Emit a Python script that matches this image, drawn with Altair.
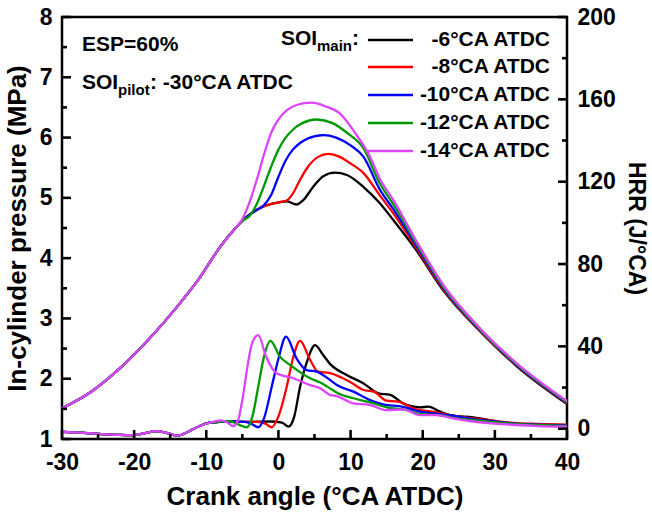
import altair as alt
import pandas as pd

SERIES = ["-6°CA ATDC", "-8°CA ATDC", "-10°CA ATDC", "-12°CA ATDC", "-14°CA ATDC"]
COLORS = ["#000000", "#FF0000", "#0000FF", "#009900", "#DD44FF"]
TICK_COLOR = "black"

# ---- in-cylinder pressure (MPa) ----
P_BASE_CA = [-30, -26, -22, -18, -14, -11, -8, -6]
P_BASE = [1.51, 1.78, 2.17, 2.65, 3.20, 3.66, 4.20, 4.49]

P6_CA = [-5, -4, -2, 0.2, 1.2, 2.5, 3.5, 4.8, 6.2, 7.8, 9.5, 11.8, 14, 16, 19, 23, 28, 33, 40]
P6 = [4.62, 4.72, 4.86, 4.93, 4.94, 4.89, 4.97, 5.18, 5.36, 5.42, 5.38, 5.18, 4.92, 4.62, 4.15, 3.44, 2.78, 2.21, 1.58]

P8_CA = [-5, -4, -2, 0.2, 1.2, 2.0, 3.0, 4.0, 5.5, 6.9, 8.5, 10, 11.8, 14, 16, 19, 23, 28, 33, 40]
P8 = [4.62, 4.72, 4.86, 4.93, 4.96, 5.07, 5.30, 5.50, 5.68, 5.73, 5.68, 5.57, 5.41, 5.05, 4.73, 4.19, 3.46, 2.79, 2.22, 1.59]

P10_CA = [-5, -4, -3, -2, -1, 0, 1, 2, 3, 4, 6.2, 8, 10, 11.8, 14, 16, 19, 23, 28, 33, 40]
P10 = [4.62, 4.72, 4.80, 4.88, 5.05, 5.35, 5.62, 5.80, 5.91, 5.98, 6.04, 6.00, 5.87, 5.68, 5.15, 4.80, 4.23, 3.48, 2.80, 2.23, 1.60]

P12_CA = [-5, -4, -3, -2, -1, 0, 1, 2, 3, 5.3, 7.5, 9.5, 11.8, 14, 16, 19, 23, 28, 33, 40]
P12 = [4.62, 4.70, 4.90, 5.20, 5.52, 5.80, 6.00, 6.13, 6.22, 6.30, 6.24, 6.08, 5.82, 5.25, 4.88, 4.27, 3.50, 2.81, 2.24, 1.61]

P14_CA = [-5, -4, -3, -2, -1, 0, 1.15, 2.5, 4.6, 6.5, 8.5, 10.5, 12.7, 14, 16, 19, 23, 28, 33, 40]
P14 = [4.65, 4.93, 5.30, 5.72, 6.08, 6.30, 6.45, 6.54, 6.58, 6.52, 6.40, 6.10, 5.68, 5.33, 4.95, 4.31, 3.53, 2.83, 2.26, 1.63]

# ---- heat release rate (J/°CA) ----
H_BASE_CA = [-30, -27, -24.5, -22, -20, -18.5, -17, -15.5, -14, -12.5, -11, -9.5, -8]
H_BASE = [-1.5, -2.0, -2.6, -3.0, -3.1, -2.2, -1.2, -2.0, -3.4, -1.5, 1.2, 2.9, 3.4]

H6_CA = [-7, -5, -3, -1, 0.5, 1.4, 2.2, 3.0, 4.0, 5.07, 6.2, 7.15, 9.45, 11.8, 13.85, 15.5, 17.3, 19.6, 20.8, 22.4, 24.2, 27, 29.3, 31.6, 36.2, 40]
H6 = [3.5, 3.3, 3.4, 3.5, 3.0, 1.0, 6.0, 20.4, 33.0, 40.6, 35.8, 31.5, 26.1, 22.0, 17.2, 16.4, 12.3, 10.4, 10.7, 8.3, 6.3, 5.5, 4.2, 2.6, 2.1, 1.8]

H8_CA = [-7, -5, -3, -1.8, -0.93, 0, 1.15, 2.0, 3.0, 4.4, 5.5, 7.15, 9.9, 11.8, 13.2, 15.0, 16.6, 19.1, 21.4, 24.2, 27, 30, 33, 36, 40]
H8 = [3.5, 3.3, 3.3, 2.5, 0.7, 6.0, 20.4, 34.0, 42.7, 33.4, 27.7, 27.0, 22.8, 18.8, 18.0, 13.6, 13.1, 9.4, 8.3, 6.3, 5.0, 3.8, 2.7, 2.3, 1.8]

H10_CA = [-7, -5, -3.8, -2.8, -2.0, -0.93, 0, 1.05, 2.5, 3.9, 5.3, 7.15, 8.1, 10.4, 12.7, 15, 16.8, 19.6, 21.9, 24.2, 27, 30, 33, 36, 40]
H10 = [3.5, 3.4, 2.5, 0.7, 5.0, 20.4, 34.0, 44.7, 34.2, 28.5, 27.7, 23.7, 21.2, 18.0, 13.9, 11.5, 11.0, 8.3, 7.3, 6.3, 4.6, 3.5, 2.5, 2.0, 1.5]

H12_CA = [-7, -5.5, -4.4, -3.6, -2.8, -2.0, -1.1, 0.2, 1.6, 4.4, 5.8, 7.15, 8.1, 10.4, 12.7, 15, 17.8, 19.6, 22.4, 24.6, 27, 30, 33, 36, 40]
H12 = [3.8, 2.0, 0.7, 6.0, 20.4, 35.0, 42.7, 35.0, 31.0, 24.5, 22.4, 19.6, 17.5, 14.8, 12.8, 10.4, 9.0, 7.1, 6.6, 5.0, 4.2, 3.2, 2.3, 1.8, 1.3]

H14_CA = [-8, -7.1, -6.3, -5.6, -5.0, -4.3, -3.7, -2.8, -1.7, -0.24, 2.06, 4.4, 5.8, 7.15, 8.1, 10.4, 12.7, 15, 17.3, 19.6, 21.9, 24.2, 27, 30, 33, 36, 40]
H14 = [4.0, 3.0, 1.2, 4.0, 14.0, 30.0, 41.0, 45.5, 35.0, 26.9, 24.5, 21.2, 19.6, 16.4, 15.8, 12.3, 11.5, 9.0, 9.4, 6.6, 6.6, 5.0, 3.5, 2.5, 1.8, 1.3, 1.0]

X_TICKS = [-30, -20, -10, 0, 10, 20, 30, 40]
X_MINOR = [-25, -15, -5, 5, 15, 25, 35]
P_TICKS = [1, 2, 3, 4, 5, 6, 7, 8]
P_MINOR = [1.5, 2.5, 3.5, 4.5, 5.5, 6.5, 7.5]
H_TICKS = [0, 40, 80, 120, 160, 200]
H_MINOR = [20, 60, 100, 140, 180]

FONT = "Liberation Sans"
W, H = 505, 422

p_curves = [
    (P_BASE_CA + P6_CA, P_BASE + P6),
    (P_BASE_CA + P8_CA, P_BASE + P8),
    (P_BASE_CA + P10_CA, P_BASE + P10),
    (P_BASE_CA + P12_CA, P_BASE + P12),
    (P_BASE_CA + P14_CA, P_BASE + P14),
]
h_curves = [
    (H_BASE_CA + H6_CA, H_BASE + H6),
    (H_BASE_CA + H8_CA, H_BASE + H8),
    (H_BASE_CA + H10_CA, H_BASE + H10),
    (H_BASE_CA + H12_CA, H_BASE + H12),
    (H_BASE_CA[:-1] + H14_CA, H_BASE[:-1] + H14),
]

xscale = alt.Scale(domain=[-30, 40], nice=False, zero=False)
pscale = alt.Scale(domain=[1, 8], nice=False, zero=False)
hscale = alt.Scale(domain=[-5, 200], nice=False, zero=False)

common_axis = dict(
    labelFont=FONT, labelFontSize=23, labelFontWeight="bold", labelColor="black",
    titleFont=FONT, titleFontWeight="bold", titleColor="black",
    ticks=False, tickSize=0, domain=False, grid=False, labelFlush=False,
    labelOverlap=False, labelExpr="replace(datum.label, '\u2212', '-')", format="d",
)
xaxis = alt.Axis(values=X_TICKS, title="Crank angle (°CA ATDC)", labelPadding=12,
                 titlePadding=9, titleFontSize=26, **common_axis)
paxis = alt.Axis(values=P_TICKS, title="In-cylinder pressure (MPa)", labelPadding=10,
                 titlePadding=9, titleFontSize=26, orient="left", **common_axis)
haxis = alt.Axis(values=H_TICKS, title="HRR (J/°CA)", labelPadding=10,
                 titlePadding=8, titleFontSize=23, orient="right", **common_axis)


def X():
    return alt.X("ca:Q", scale=xscale, axis=xaxis)


one = pd.DataFrame({"k": [0]})

# pressure group
p_layers = []
for (ca, vals), c in zip(p_curves, COLORS):
    df = pd.DataFrame({"ca": ca, "value": vals})
    p_layers.append(
        alt.Chart(df).mark_line(color=c, strokeWidth=2.3, interpolate="monotone").encode(
            x=X(), y=alt.Y("value:Q", scale=pscale, axis=paxis)
        )
    )
for vals, ln in [(P_TICKS, 9), (P_MINOR, 5)]:
    p_layers.append(
        alt.Chart(pd.DataFrame({"value": vals})).mark_rule(color=TICK_COLOR, strokeWidth=2.6).encode(
            y=alt.Y("value:Q", scale=pscale, axis=paxis), x=alt.value(0), x2=alt.value(ln)
        )
    )
p_group = alt.layer(*p_layers)

# HRR group
h_layers = []
for (ca, vals), c in zip(h_curves, COLORS):
    df = pd.DataFrame({"ca": ca, "value": vals})
    h_layers.append(
        alt.Chart(df).mark_line(color=c, strokeWidth=2.3, interpolate="monotone").encode(
            x=X(), y=alt.Y("value:Q", scale=hscale, axis=haxis)
        )
    )
for vals, ln in [(H_TICKS, 9), (H_MINOR, 5)]:
    h_layers.append(
        alt.Chart(pd.DataFrame({"value": vals})).mark_rule(color=TICK_COLOR, strokeWidth=2.6).encode(
            y=alt.Y("value:Q", scale=hscale, axis=haxis), x=alt.value(W), x2=alt.value(W - ln)
        )
    )
h_group = alt.layer(*h_layers)

# bottom ticks
other = []
for vals, ln in [(X_TICKS, 9), (X_MINOR, 5)]:
    other.append(
        alt.Chart(pd.DataFrame({"ca": vals})).mark_rule(color=TICK_COLOR, strokeWidth=2.6).encode(
            x=X(), y=alt.value(H), y2=alt.value(H - ln)
        )
    )


def txt(s, x, y, size=21, align="left", baseline="alphabetic", color="black"):
    return alt.Chart(one).mark_text(
        text=s, font=FONT, fontSize=size, fontWeight="bold", align=align,
        baseline=baseline, color=color
    ).encode(x=alt.value(x), y=alt.value(y))


other += [
    txt("ESP=60%", 20, 34),
    txt("SOI", 20, 72),
    txt("pilot", 56, 78, size=15),
    txt(": -30°CA ATDC", 88, 72),
    txt("SOI", 219, 28),
    txt("main", 255, 34, size=15),
    txt(":", 290, 28),
]
rows = [23, 50, 78, 106, 134]
for s, c, ry in zip(SERIES, COLORS, rows):
    other.append(
        alt.Chart(one).mark_rule(color=c, strokeWidth=2.5).encode(
            x=alt.value(306), x2=alt.value(351), y=alt.value(ry)
        )
    )
    other.append(txt(s, 488, ry, align="right", baseline="middle"))

chart = alt.layer(p_group, h_group, *other).resolve_scale(y="independent").properties(
    width=W, height=H,
    autosize=alt.AutoSizeParams(type="none"),
    padding={"left": 62, "top": 17, "right": 85, "bottom": 76},
    background="white",
).configure_view(stroke="black", strokeWidth=2.5)

chart.save("out.html", embed_options={"renderer": "svg", "actions": False})
